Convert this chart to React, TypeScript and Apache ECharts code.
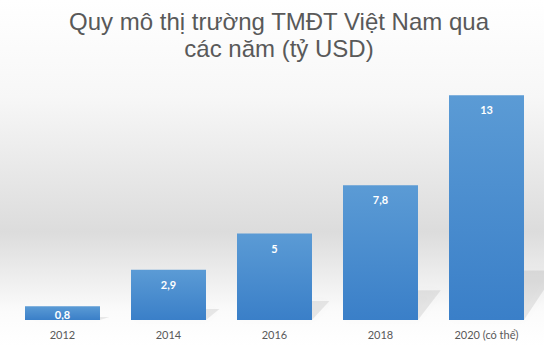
import React, { useEffect, useRef } from "react";
import * as echarts from "echarts";

const categories = ["2012", "2014", "2016", "2018", "2020 (có thể)"];
const values = [0.8, 2.9, 5, 7.8, 13];
const titleLines = ["Quy mô thị trường TMĐT Việt Nam qua", "các năm (tỷ USD)"];

const BAR_RATIO = 0.7075;

export default function App() {
  const ref = useRef<HTMLDivElement>(null);
  useEffect(() => {
    document.body.style.margin = "0";
    if (!ref.current) return;
    const chart = echarts.init(ref.current, null, { renderer: "svg" });
    chart.setOption({
      animation: false,
      backgroundColor: new echarts.graphic.LinearGradient(0, 0, 0, 1, [
        { offset: 0, color: "#ffffff" },
        { offset: 0.28, color: "#f7f7f7" },
        { offset: 0.67, color: "#dcdcdc" },
        { offset: 0.9, color: "#fbfbfb" },
        { offset: 1, color: "#ffffff" },
      ]),
      title: {
        text: titleLines.join("\n"),
        left: 274,
        top: 3,
        textAlign: "center",
        textStyle: {
          fontFamily: "Liberation Sans",
          fontSize: 24,
          fontWeight: "normal",
          color: "#595959",
          lineHeight: 27,
        },
      },
      grid: { left: 9.5, right: 4.5, top: 78, bottom: 26 },
      xAxis: {
        type: "category",
        data: categories,
        axisLine: { show: false },
        axisTick: { show: false },
        axisLabel: {
          color: "#595959",
          fontFamily: "Lato",
          fontSize: 11,
          margin: 9,
        },
      },
      yAxis: {
        type: "value",
        min: 0,
        max: 14,
        show: false,
        splitLine: { show: false },
      },
      series: [
        {
          type: "custom",
          z: 1,
          silent: true,
          data: values.map((v, i) => [i, v]),
          renderItem: (params: any, api: any) => {
            const base = api.coord([api.value(0), 0]);
            const top = api.coord([api.value(0), api.value(1)]);
            const bw = api.size([1, 0])[0] * BAR_RATIO;
            const h = base[1] - top[1];
            const sh = h * 0.22;
            const dx = 8 + h * 0.11;
            const xl = base[0] - bw / 2;
            const xr = base[0] + bw / 2;
            return {
              type: "polygon",
              shape: {
                points: [
                  [xl, base[1]],
                  [xr, base[1]],
                  [xr + dx, base[1] - sh],
                  [xl + dx, base[1] - sh],
                ],
              },
              style: {
                fill: "rgba(0,0,0,0.08)",
                shadowBlur: 10,
                shadowColor: "rgba(0,0,0,0.14)",
              },
            };
          },
        },
        {
          type: "bar",
          z: 2,
          data: values.map((v) => ({
            value: v,
            label: { distance: v < 1.5 ? 3 : 9 },
          })),
          barWidth: (BAR_RATIO * 100).toFixed(2) + "%",
          itemStyle: {
            color: new echarts.graphic.LinearGradient(0, 0, 0, 1, [
              { offset: 0, color: "#5b9bd5" },
              { offset: 1, color: "#3a7fc8" },
            ]),
          },
          label: {
            show: true,
            position: "insideTop",
            distance: 9,
            color: "#ffffff",
            fontFamily: "Lato",
            fontWeight: "bold",
            fontSize: 11,
            formatter: (p: any) => String(p.value).replace(".", ","),
          },
        },
      ],
    });
    return () => chart.dispose();
  }, []);
  return <div ref={ref} style={{ width: 544, height: 346 }} />;
}
